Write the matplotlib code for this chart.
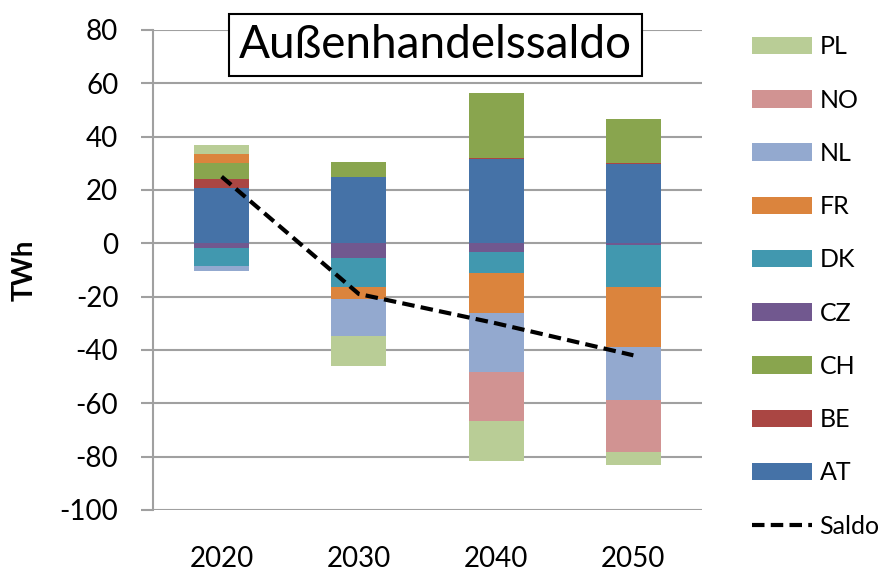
import numpy as np
import matplotlib.pyplot as plt

plt.rcParams['font.family'] = ['Lato', 'DejaVu Sans']
plt.rcParams['axes.unicode_minus'] = False

years = ['2020', '2030', '2040', '2050']

# stacking order (bottom to top), values in TWh
countries = ['AT', 'BE', 'CH', 'CZ', 'DK', 'FR', 'NL', 'NO', 'PL']
AT = [20.6, 24.7, 31.6, 29.7]
BE = [3.4, 0.0, 0.5, 0.5]
CH = [6.0, 5.9, 24.4, 16.3]
CZ = [-1.9, -5.6, -3.1, -0.5]
DK = [-6.5, -10.7, -7.9, -15.8]
FR = [3.5, -4.6, -15.0, -22.5]
NL = [-1.9, -13.9, -22.1, -20.0]
NO = [0.0, 0.0, -18.4, -19.3]
PL = [3.4, -11.2, -15.1, -5.0]
saldo = [25, -19, -30, -42]

colors = {'AT': '#4572A7', 'BE': '#AA4643', 'CH': '#89A54E', 'CZ': '#71588F',
          'DK': '#4198AF', 'FR': '#DB843D', 'NL': '#93A9CF', 'NO': '#D19392',
          'PL': '#B9CD96'}
series = dict(AT=AT, BE=BE, CH=CH, CZ=CZ, DK=DK, FR=FR, NL=NL, NO=NO, PL=PL)

fig = plt.figure(figsize=(8.92, 5.72), dpi=100)
ax = fig.add_axes([0.1715, 0.1084, 0.6155, 0.8392])

x = np.arange(len(years))
pos_bottom = np.zeros(len(years))
neg_bottom = np.zeros(len(years))
handles = {}
for c in countries:
    vals = np.array(series[c])
    bottom = np.where(vals >= 0, pos_bottom, neg_bottom)
    b = ax.bar(x, vals, 0.4, bottom=bottom, color=colors[c], zorder=3)
    handles[c] = b
    pos_bottom = pos_bottom + np.where(vals > 0, vals, 0)
    neg_bottom = neg_bottom + np.where(vals < 0, vals, 0)

line, = ax.plot(x, saldo, color='black', lw=3, linestyle=(0, (3, 1.5)), zorder=4)

ax.set_xlim(-0.5, 3.5)
ax.set_ylim(-100, 80)
ax.set_yticks(np.arange(-100, 81, 20))
ax.set_xticks(x)
ax.set_xticklabels(years)
ax.grid(axis='y', color='#a0a0a0', lw=1.5, zorder=0)
for s in ['top', 'right', 'bottom']:
    ax.spines[s].set_visible(False)
ax.spines['left'].set_color('#a0a0a0')
ax.spines['left'].set_linewidth(1.5)
ax.tick_params(axis='y', length=9, width=1.5, color='#a0a0a0', labelsize=20, pad=16)
ax.tick_params(axis='x', length=0, labelsize=20, pad=26)
ax.set_ylabel('TWh', fontsize=20, fontweight='bold', labelpad=16)

ax.text(0.514, 0.969, 'Außenhandelssaldo', transform=ax.transAxes, fontsize=33,
        ha='center', va='center', zorder=6,
        bbox=dict(boxstyle='square,pad=0.22', facecolor='white', edgecolor='black', lw=1.5))

order = ['PL', 'NO', 'NL', 'FR', 'DK', 'CZ', 'CH', 'BE', 'AT']
leg_handles = [handles[c] for c in order] + [line]
leg_labels = order + ['Saldo']
fig.legend(leg_handles, leg_labels, loc='upper left', bbox_to_anchor=(0.843, 0.938),
           frameon=False, fontsize=18, handlelength=2.4, handleheight=0.7,
           handletextpad=0.3, labelspacing=1.21, borderpad=0, borderaxespad=0)

fig.savefig('out.png', dpi=100)
